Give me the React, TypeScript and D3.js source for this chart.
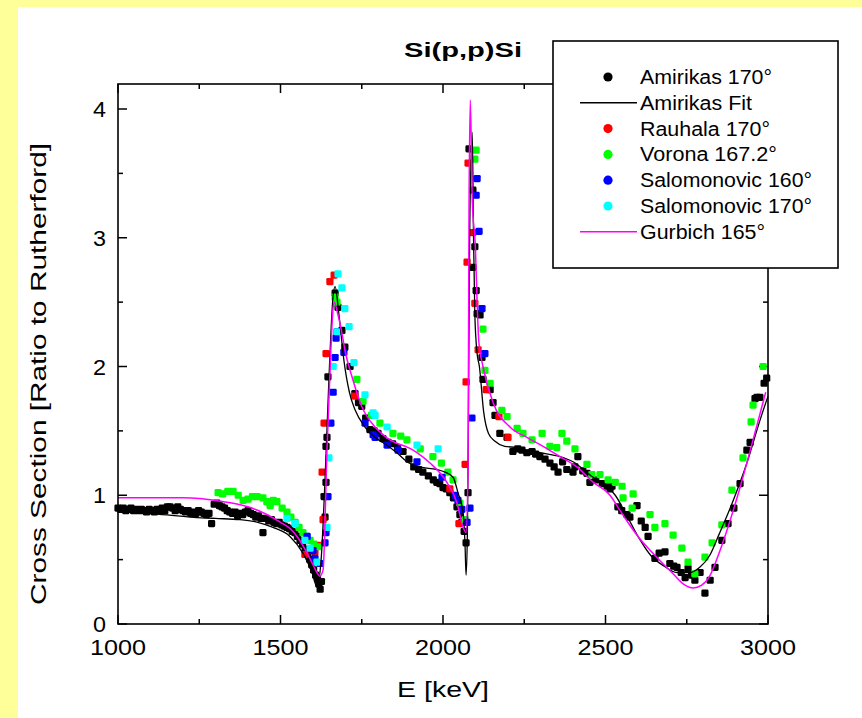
import React from "react";
import * as d3 from "d3";

type P = [number, number];

const xTicksMajor = [1000, 1500, 2000, 2500, 3000];
const yTicksMajor = [0, 1, 2, 3, 4];

const amirikas170: P[] = [
  [1000,0.90],[1008,0.89],[1016,0.90],[1024,0.88],[1032,0.89],[1040,0.90],[1048,0.88],[1056,0.89],[1064,0.88],[1072,0.89],
  [1080,0.88],[1088,0.87],[1096,0.89],[1104,0.88],[1112,0.87],[1120,0.89],[1128,0.88],[1136,0.90],[1144,0.88],[1152,0.91],
  [1160,0.91],[1168,0.90],[1176,0.88],[1184,0.91],[1192,0.89],[1200,0.88],[1208,0.87],[1216,0.88],[1224,0.86],[1232,0.87],
  [1240,0.86],[1248,0.88],[1256,0.87],[1264,0.86],[1272,0.85],[1280,0.86],[1288,0.78],[1296,0.93],[1304,0.94],[1312,0.92],
  [1320,0.91],[1328,0.90],[1336,0.88],[1344,0.87],[1352,0.86],[1360,0.87],[1368,0.84],[1376,0.86],[1384,0.85],[1392,0.87],
  [1400,0.88],[1408,0.86],[1416,0.85],[1424,0.83],[1432,0.84],[1440,0.82],[1446,0.71],[1456,0.82],[1464,0.80],[1472,0.81],
  [1480,0.79],[1488,0.78],[1496,0.79],[1504,0.77],[1512,0.76],[1520,0.75],[1528,0.74],[1536,0.72],[1544,0.71],[1552,0.68],
  [1560,0.65],[1568,0.62],[1576,0.58],[1584,0.54],[1590,0.50],[1596,0.46],[1602,0.42],[1608,0.38],[1614,0.35],[1618,0.31],
  [1622,0.27],[1626,0.33],[1634,0.99],[1637,0.83],[1640,1.10],[1640,1.38],[1643,1.45],[1646,1.92],[1668,2.57],[1677,2.46],
  [1689,2.28],[1698,2.15],[1714,2.00],[1729,1.79],[1740,1.72],[1750,1.69],[1762,1.60],[1775,1.51],[1788,1.50],[1800,1.48],
  [1815,1.44],[1831,1.41],[1845,1.40],[1860,1.37],[1877,1.34],[1895,1.28],[1910,1.22],[1925,1.20],[1938,1.18],[1955,1.15],
  [1970,1.12],[1981,1.10],[1990,1.09],[2000,1.06],[2010,1.05],[2021,1.02],[2032,0.98],[2043,0.91],[2052,0.85],[2058,0.79],
  [2065,0.72],[2071,0.63],[2077,1.02],[2080,3.69],[2092,3.37],[2092,2.77],[2098,2.93],[2102,2.59],[2105,2.41],[2114,2.40],
  [2120,2.07],[2123,1.90],[2145,1.82],[2154,1.72],[2160,1.62],[2175,1.48],[2197,1.45],[2215,1.34],[2230,1.36],[2243,1.35],
  [2258,1.33],[2274,1.34],[2285,1.32],[2298,1.30],[2314,1.28],[2329,1.25],[2342,1.22],[2354,1.18],[2368,1.26],[2381,1.20],
  [2400,1.18],[2406,1.22],[2415,1.30],[2430,1.19],[2443,1.17],[2452,1.10],[2470,1.12],[2490,1.09],[2505,1.07],[2514,1.05],
  [2520,1.07],[2538,0.91],[2550,0.88],[2566,0.85],[2575,0.83],[2597,0.92],[2610,0.80],[2622,0.75],[2631,0.68],[2652,0.51],
  [2665,0.55],[2683,0.56],[2698,0.47],[2710,0.45],[2720,0.44],[2733,0.40],[2745,0.36],[2754,0.43],[2765,0.38],[2775,0.34],
  [2791,0.40],[2806,0.24],[2822,0.34],[2837,0.44],[2858,0.65],[2877,0.78],[2895,0.90],[2914,1.09],[2935,1.35],[2945,1.41],
  [2960,1.75],[2966,1.76],[2975,1.76],[2988,1.87],[2996,1.91],
];

const amirikasFit: P[] = [
  [1000,0.88],[1100,0.86],[1222,0.83],[1300,0.82],[1375,0.81],[1430,0.79],[1477,0.75],[1529,0.68],[1569,0.55],[1597,0.40],
  [1612,0.29],[1625,0.50],[1637,1.12],[1649,1.90],[1662,2.55],[1668,2.62],[1680,2.40],[1695,2.05],[1712,1.80],[1730,1.66],
  [1760,1.53],[1790,1.45],[1815,1.41],[1858,1.33],[1889,1.26],[1929,1.22],[1981,1.20],[2006,1.18],[2031,1.14],[2046,1.02],
  [2062,0.86],[2068,0.60],[2071,0.38],[2075,0.70],[2078,1.50],[2082,3.00],[2090,3.82],[2094,3.00],[2098,2.40],[2105,2.10],
  [2112,2.00],[2125,1.65],[2140,1.48],[2160,1.42],[2190,1.38],[2228,1.37],[2258,1.35],[2300,1.33],[2360,1.30],[2400,1.26],
  [2462,1.14],[2500,1.08],[2530,1.00],[2566,0.84],[2600,0.68],[2640,0.53],[2680,0.45],[2720,0.40],[2760,0.40],[2790,0.44],
  [2820,0.53],[2850,0.70],[2890,0.94],[2935,1.25],[2975,1.58],[3000,1.77],
];

const rauhala170: P[] = [
  [1468,0.94],[1575,0.54],[1606,0.56],[1615,0.61],[1631,0.81],[1628,1.18],[1634,1.56],[1640,2.10],[1652,2.66],[1665,2.71],
  [1729,1.77],[2021,1.05],[2049,0.78],[2068,1.24],[2071,1.88],[2074,2.81],[2077,3.58],[2092,3.04],[2098,2.49],[2108,2.13],
  [2133,1.82],[2172,1.61],[2200,1.45],
];

const vorona167: P[] = [
  [1308,1.02],[1322,1.01],[1338,1.03],[1354,1.03],[1370,1.00],[1385,0.96],[1400,0.97],[1414,0.99],[1428,0.99],[1446,0.98],
  [1458,0.95],[1468,0.92],[1478,0.96],[1489,0.95],[1505,0.90],[1520,0.87],[1532,0.83],[1545,0.79],[1557,0.75],[1569,0.71],
  [1580,0.68],[1591,0.65],[1603,0.62],[1615,0.60],[1668,2.54],[1674,2.50],[1735,1.90],[1754,1.73],[1780,1.62],[1806,1.56],
  [1846,1.48],[1870,1.46],[1889,1.43],[1930,1.36],[1969,1.30],[1995,1.25],[2015,1.18],[2031,1.12],[2052,0.94],[2068,0.81],
  [2098,3.61],[2102,3.68],[2123,2.29],[2129,1.97],[2145,1.87],[2181,1.66],[2197,1.61],[2228,1.52],[2246,1.48],[2274,1.43],
  [2305,1.48],[2329,1.38],[2350,1.37],[2366,1.48],[2381,1.42],[2406,1.36],[2443,1.24],[2458,1.16],[2483,1.16],[2508,1.12],
  [2530,1.10],[2551,1.07],[2554,0.98],[2585,1.01],[2582,0.90],[2637,0.85],[2652,0.75],[2683,0.78],[2708,0.69],[2735,0.59],
  [2754,0.48],[2775,0.39],[2806,0.52],[2828,0.63],[2858,0.77],[2889,1.04],[2923,1.29],[2948,1.57],[2954,1.70],[2985,2.00],
];

const salomonovic160: P[] = [
  [1582,0.68],[1600,0.57],[1606,0.51],[1622,0.47],[1637,0.63],[1640,0.71],[1646,0.99],[1655,1.56],[1662,1.80],[1668,2.07],
  [1671,2.22],[1674,2.27],[1695,2.11],[1760,1.56],[1785,1.47],[1791,1.45],[1828,1.39],[1862,1.35],[1920,1.26],[1997,1.14],
  [2037,1.00],[2046,0.96],[2058,0.89],[2074,0.79],[2083,0.90],[2089,1.60],[2102,3.33],[2105,3.46],[2111,3.05],[2120,2.45],
  [2129,2.10],
];

const salomonovic170: P[] = [
  [1520,0.82],[1545,0.78],[1575,0.65],[1591,0.59],[1612,0.48],[1643,0.75],[1649,1.29],[1662,2.00],[1674,2.27],[1677,2.72],
  [1689,2.61],[1698,2.45],[1711,2.31],[1726,2.03],[1760,1.78],[1785,1.64],[1791,1.62],[1828,1.53],[1920,1.39],[1985,1.36],
];

const gurbich165: P[] = [
  [1000,0.98],[1200,0.98],[1250,0.975],[1300,0.96],[1350,0.94],[1400,0.91],[1450,0.86],[1500,0.79],[1530,0.74],[1551,0.68],
  [1582,0.55],[1600,0.46],[1612,0.40],[1621,0.37],[1631,0.42],[1643,1.35],[1655,2.13],[1662,2.46],[1666,2.50],[1675,2.42],
  [1689,2.26],[1698,2.13],[1720,1.92],[1750,1.69],[1791,1.53],[1831,1.44],[1908,1.35],[1960,1.25],[2012,1.10],[2043,0.94],
  [2062,0.75],[2071,0.71],[2077,1.20],[2080,3.20],[2084,4.07],[2090,3.30],[2100,2.90],[2105,2.50],[2110,2.20],[2123,2.00],
  [2154,1.72],[2206,1.53],[2258,1.45],[2308,1.38],[2360,1.30],[2412,1.22],[2463,1.10],[2514,1.00],[2540,0.90],[2566,0.80],
  [2600,0.68],[2646,0.55],[2680,0.46],[2708,0.39],[2740,0.31],[2770,0.28],[2795,0.30],[2820,0.37],[2845,0.52],[2874,0.73],
  [2914,1.06],[2954,1.43],[2993,1.80],
];

const legendLabels = [
  "Amirikas 170°",
  "Amirikas Fit",
  "Rauhala 170°",
  "Vorona 167.2°",
  "Salomonovic 160°",
  "Salomonovic 170°",
  "Gurbich 165°",
];
const legendWidths = [132, 112, 130, 137, 172, 172, 125];

const FONT = "'Liberation Sans', Arial, Helvetica, sans-serif";

export default function App() {
  const W = 862, H = 718;
  const left = 118, right = 768, top = 84, bottom = 624;
  const x = d3.scaleLinear().domain([1000, 3000]).range([left, right]);
  const y = d3.scaleLinear().domain([0, 4.2]).range([bottom, 83.25]);
  const line = d3.line<P>().x(d => x(d[0])).y(d => y(d[1])).curve(d3.curveMonotoneX);

  const xMinor = d3.range(1000, 3001, 250);
  const yMinor = d3.range(0, 4.01, 0.5);

  const dots = (data: P[], color: string, key: string) =>
    data.map((d, i) => (
      <rect key={key + i} x={x(d[0]) - 3.6} y={y(d[1]) - 3.6} width={7.2} height={7.2} rx={1.4} fill={color} />
    ));

  const scatter = [
    { data: amirikas170, color: "#000000" },
    { data: rauhala170, color: "#ff0000" },
    { data: vorona167, color: "#00ff00" },
    { data: salomonovic160, color: "#0000ff" },
    { data: salomonovic170, color: "#00ffff" },
  ];

  const legendItems = [
    { type: "dot", color: "#000000" },
    { type: "line", color: "#000000" },
    { type: "dot", color: "#ff0000" },
    { type: "dot", color: "#00ff00" },
    { type: "dot", color: "#0000ff" },
    { type: "dot", color: "#00ffff" },
    { type: "line", color: "#ff00ff" },
  ];
  const legY0 = 77, legDY = 25.8;

  return (
    <svg width={W} height={H} style={{ position: "absolute", left: 0, top: 0 }} fontFamily={FONT}>
      <rect x={0} y={0} width={W} height={H} fill="#ffff99" />
      <rect x={18} y={7} width={W - 18} height={H - 7} fill="#ffffff" />

      <text x={463} y={57} textAnchor="middle" fontSize={20} fontWeight="bold" textLength={118} lengthAdjust="spacingAndGlyphs">Si(p,p)Si</text>

      {/* ticks */}
      {xMinor.map(v => {
        const major = v % 500 === 0;
        const len = major ? 9 : 5;
        return (
          <g key={"xt" + v} stroke="#000" strokeWidth={1.5}>
            <line x1={x(v)} x2={x(v)} y1={bottom} y2={bottom - len} />
            <line x1={x(v)} x2={x(v)} y1={top} y2={top + len} />
          </g>
        );
      })}
      {yMinor.map(v => {
        const major = Math.abs(v - Math.round(v)) < 1e-6;
        const len = major ? 9 : 5;
        return (
          <g key={"yt" + v} stroke="#000" strokeWidth={1.5}>
            <line x1={left} x2={left + len} y1={y(v)} y2={y(v)} />
            <line x1={right} x2={right - len} y1={y(v)} y2={y(v)} />
          </g>
        );
      })}

      {/* data */}
      {scatter.map((s, k) => <g key={"s" + k}>{dots(s.data, s.color, "s" + k + "_")}</g>)}
      <path d={line(amirikasFit) || ""} fill="none" stroke="#000" strokeWidth={1.3} />
      <path d={line(gurbich165) || ""} fill="none" stroke="#ff00ff" strokeWidth={1.5} />

      {/* frame */}
      <rect x={left} y={top} width={right - left} height={bottom - top} fill="none" stroke="#000" strokeWidth={1.6} />

      {/* tick labels */}
      {xTicksMajor.map(v => (
        <text key={"xl" + v} x={x(v)} y={655} textAnchor="middle" fontSize={22} textLength={56} lengthAdjust="spacingAndGlyphs">{v}</text>
      ))}
      {yTicksMajor.map(v => (
        <text key={"yl" + v} x={106} y={y(v) + 8} textAnchor="end" fontSize={22} textLength={13} lengthAdjust="spacingAndGlyphs">{v}</text>
      ))}

      <text x={443} y={697} textAnchor="middle" fontSize={22} textLength={92} lengthAdjust="spacingAndGlyphs">E [keV]</text>
      <text transform={`translate(46,374) rotate(-90)`} textAnchor="middle" fontSize={22} textLength={462} lengthAdjust="spacingAndGlyphs">
        Cross Section [Ratio to Rutherford]
      </text>

      {/* legend */}
      <rect x={553} y={41} width={285} height={227} fill="#ffffff" stroke="#000" strokeWidth={1.6} />
      {legendItems.map((it, i) => {
        const cy = legY0 + i * legDY;
        return (
          <g key={"lg" + i}>
            {it.type === "dot" ? (
              <circle cx={608} cy={cy} r={4.6} fill={it.color} />
            ) : (
              <line x1={580} x2={637} y1={cy} y2={cy} stroke={it.color} strokeWidth={1.5} />
            )}
            <text x={640} y={cy + 7} fontSize={19.5} textLength={legendWidths[i]} lengthAdjust="spacingAndGlyphs">{legendLabels[i]}</text>
          </g>
        );
      })}
    </svg>
  );
}
